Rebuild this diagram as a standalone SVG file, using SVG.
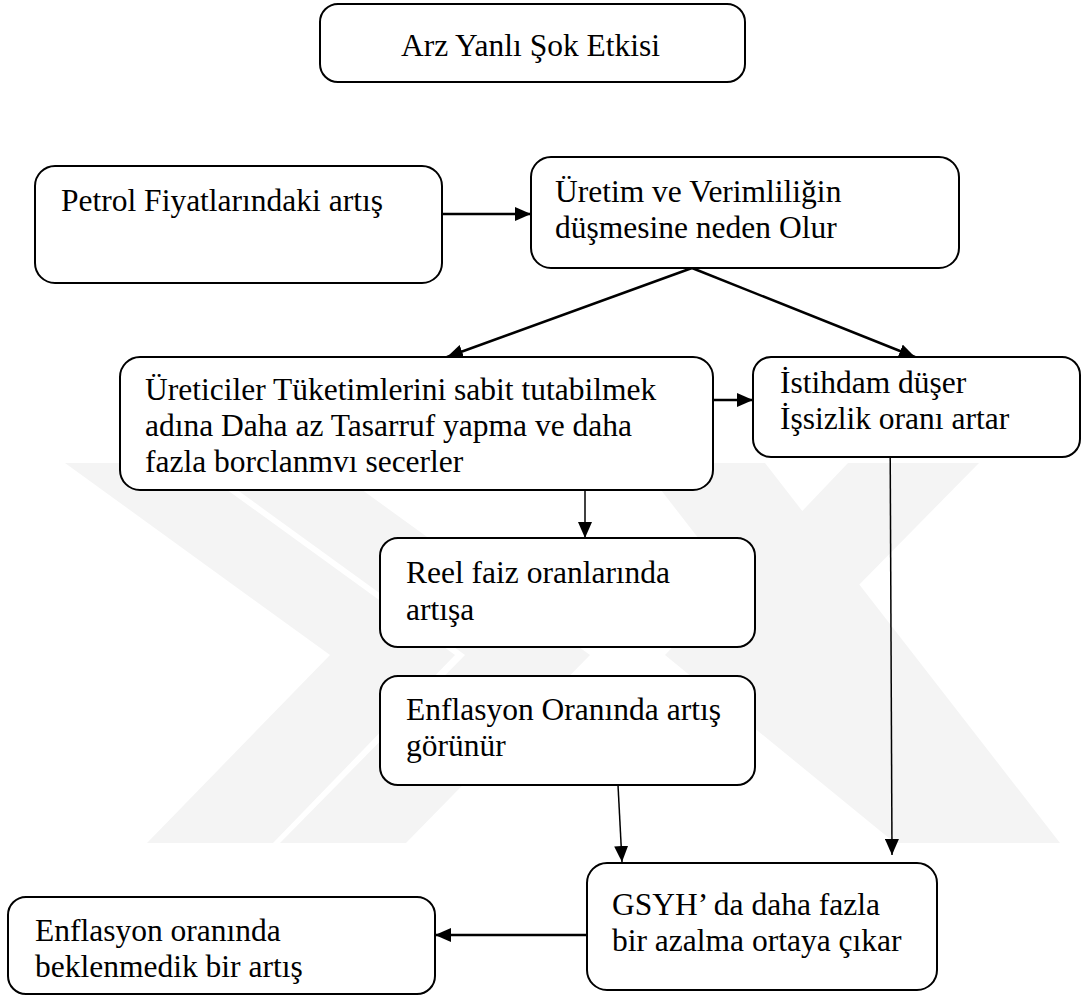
<svg xmlns="http://www.w3.org/2000/svg" width="1082" height="1005" viewBox="0 0 1082 1005">
<defs>
<style>
.box{fill:#fff;stroke:#000;stroke-width:2}
.t{font-family:'Liberation Serif','DejaVu Serif',serif;font-size:31.5px;fill:#000}
.c{stroke:#000;fill:none}
.thick{stroke-width:2.5}
.thin{stroke-width:1.5}
.wm{fill:#f4f4f4}
</style>
<marker id="ah" markerUnits="userSpaceOnUse" markerWidth="16" markerHeight="14" refX="16" refY="7" orient="auto">
<path d="M0,0 L16,7 L0,14 z" fill="#000"/>
</marker>
</defs>
<rect width="1082" height="1005" fill="#fff"/>
<g id="watermark">
<polygon class="wm" points="65,463 190,463 455,655 273,843 147,843 330,655"/>
<polygon class="wm" points="200,463 325,463 590,655 406,843 280,843 465,655"/>
<polygon class="wm" points="848,463 979,463 790,655 1045,843 895,843 665,655"/>
<polygon class="wm" points="640,463 765,463 1060,843 935,843"/>
</g>
<g id="connectors">
<line class="c thick" x1="442" y1="214" x2="531" y2="214" marker-end="url(#ah)"/>
<line class="c thick" x1="692" y1="268" x2="447" y2="357" marker-end="url(#ah)"/>
<line class="c thick" x1="692" y1="268" x2="915" y2="357" marker-end="url(#ah)"/>
<line class="c thick" x1="713" y1="400" x2="753" y2="400" marker-end="url(#ah)"/>
<line class="c thin" x1="585" y1="490" x2="585" y2="538" marker-end="url(#ah)"/>
<line class="c thin" x1="890" y1="410" x2="892" y2="855" marker-end="url(#ah)"/>
<line class="c thin" x1="618" y1="785" x2="622" y2="862" marker-end="url(#ah)"/>
<line class="c thick" x1="587" y1="935" x2="435" y2="935" marker-end="url(#ah)"/>
</g>
<g id="n-arz">
<rect class="box" x="320" y="4" width="425" height="78" rx="18"/>
<text class="t" x="401" y="56">Arz Yanlı Şok Etkisi</text>
</g>
<g id="n-petrol">
<rect class="box" x="35" y="166" width="407" height="117" rx="20"/>
<text class="t" x="61" y="211">Petrol Fiyatlarındaki artış</text>
</g>
<g id="n-uretim">
<rect class="box" x="531" y="157" width="428" height="111" rx="20"/>
<text class="t" x="555" y="202">Üretim ve Verimliliğin</text>
<text class="t" x="555" y="238">düşmesine neden Olur</text>
</g>
<g id="n-ureticiler">
<rect class="box" x="120" y="357" width="593" height="133" rx="20"/>
<text class="t" x="145" y="400">Üreticiler Tüketimlerini sabit tutabilmek</text>
<text class="t" x="145" y="436">adına Daha az Tasarruf yapma ve daha</text>
<text class="t" x="145" y="472">fazla borclanmvı secerler</text>
</g>
<g id="n-istihdam">
<rect class="box" x="753" y="357" width="327" height="100" rx="18"/>
<text class="t" x="780" y="393">İstihdam düşer</text>
<text class="t" x="780" y="429">İşsizlik oranı artar</text>
</g>
<g id="n-reel">
<rect class="box" x="380" y="538" width="375" height="109" rx="18"/>
<text class="t" x="406" y="583">Reel faiz oranlarında</text>
<text class="t" x="406" y="620">artışa</text>
</g>
<g id="n-enf1">
<rect class="box" x="380" y="676" width="375" height="109" rx="18"/>
<text class="t" x="406" y="720">Enflasyon Oranında artış</text>
<text class="t" x="406" y="756">görünür</text>
</g>
<g id="n-gsyh">
<rect class="box" x="587" y="863" width="350" height="127" rx="20"/>
<text class="t" x="612" y="915">GSYH’ da daha fazla</text>
<text class="t" x="612" y="951">bir azalma ortaya çıkar</text>
</g>
<g id="n-enf2">
<rect class="box" x="8" y="897" width="427" height="97" rx="18"/>
<text class="t" x="35" y="941">Enflasyon oranında</text>
<text class="t" x="35" y="977">beklenmedik bir artış</text>
</g>
</svg>
